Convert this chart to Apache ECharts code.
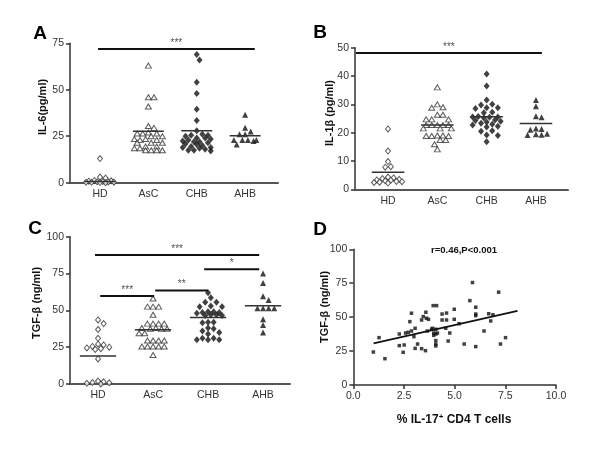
<!DOCTYPE html>
<html><head><meta charset="utf-8">
<script src="https://cdn.jsdelivr.net/npm/echarts@6/dist/echarts.min.js"></script>
<style>html,body{margin:0;padding:0;background:#fff}#c{width:600px;height:455px}</style>
</head><body><div id="c"></div>
<script>
// ---------- DATA ----------
const categories = ['HD', 'AsC', 'CHB', 'AHB'];

// Panel A: IL-6 (pg/ml)
const il6_HD  = [13, 3, 2.5, 1.2, 1, 0.8, 0.6, 0.5, 0.4, 0.3, 0.2, 0.2, 0.1, 0];
const il6_AsC = [63, 46, 46, 41, 30.5, 29.5, 27, 26.5, 26.5, 26.5, 25, 25, 23.5, 23.5, 23, 23, 21.5, 21.5, 21.5, 19.5, 19.5, 18.5, 18.5, 17.5, 17.5, 17.5, 17.5];
const il6_CHB = [69, 66, 54, 48, 39.5, 33.5, 28, 26, 25.5, 25.5, 25, 24, 24, 23.5, 23, 22.5, 22, 22, 21.5, 21, 20.5, 20, 19.5, 19, 19, 18.5, 18, 17.5, 17.5, 17];
const il6_AHB = [36.5, 29.5, 27.5, 26, 26, 23, 23, 23, 23, 22.5, 20.5];
const il6_means = [0.6, 27.7, 28, 25.3];
const il6_ticks = [0, 25, 50, 75];
const il6_sig = [[0.96, 4.2, 71.9, '***']];

// Panel B: IL-1beta (pg/ml)
const il1b_HD  = [21.3, 13.5, 9.8, 8, 7.8, 4.3, 4, 3.8, 3.5, 3.3, 3.2, 3, 2.8, 2.7, 2.5, 2.4, 2.2];
const il1b_AsC = [36, 30, 29, 28.8, 26.3, 26.3, 24.7, 24.7, 24.7, 22.7, 22.7, 22.7, 22.7, 22.7, 21.5, 21.5, 21.5, 19, 19, 18.8, 18.8, 18.8, 17.4, 17.4, 15.9, 14.1];
const il1b_CHB = [40.7, 36.5, 31.5, 30, 29.8, 28.8, 28.8, 28.5, 27.2, 27, 25.7, 25.5, 25.5, 25.4, 25.2, 24.5, 24.3, 24, 23.8, 23.3, 23, 22.7, 22.3, 22, 20.7, 20.5, 19.2, 19, 16.8];
const il1b_AHB = [31.5, 29.3, 25.8, 25.4, 21.5, 21.3, 21, 19.6, 19.4, 19.3, 19.2];
const il1b_means = [6, 22.7, 25.6, 23.2];
const il1b_ticks = [0, 10, 20, 30, 40, 50];
const il1b_sig = [[0.35, 4.12, 48.1, '***']];

// Panel C: TGF-beta (ng/ml)
const tgf_HD  = [43.5, 41, 37, 31, 27, 26.5, 25.5, 25, 24.5, 24, 23.5, 17, 2, 1.5, 1, 0.8, 0.5, 0];
const tgf_AsC = [58, 52.5, 52.5, 52.5, 47, 41, 41, 41, 41, 38, 38, 37.5, 37.5, 37.5, 34.5, 34.5, 29.5, 29.5, 29.5, 29.5, 25.5, 25.5, 25.5, 25.5, 25.5, 19.7];
const tgf_CHB = [62, 58.5, 55.5, 55.5, 53, 52.5, 52.5, 49, 49, 48.5, 48.5, 48, 47, 47, 46.5, 46.5, 42, 42, 41.5, 38, 37.5, 36, 35, 34, 31, 31, 30, 30, 30];
const tgf_AHB = [75, 68.5, 59.5, 57, 51.5, 51.5, 51.5, 51.5, 44, 40, 35];
const tgf_means = [19, 36.9, 45.2, 53.2];
const tgf_ticks = [0, 25, 50, 75, 100];
const tgf_sig = [[0.945, 3.93, 87.6, '***'], [1.04, 2.02, 59.8, '***'], [2.04, 3.0, 63.4, '**'], [2.93, 3.93, 77.9, '*']];

// Panel D: correlation %IL-17+ CD4 T cells vs TGF-beta
const corr_x = [0.99, 1.27, 1.56, 2.27, 2.27, 2.51, 2.46, 2.58, 2.71, 2.79, 2.87, 2.87, 2.99, 3.05, 3.05, 3.17, 3.37, 3.37, 3.45, 3.58,
                3.61, 3.56, 3.65, 3.71, 3.86, 3.91, 3.94, 4.11, 3.97, 3.97, 4.07, 4.07, 4.07, 4.07, 4.07, 4.15, 4.38, 4.6, 4.38, 4.6,
                4.56, 4.68, 4.76, 4.98, 4.98, 5.22, 5.47, 5.75, 5.88, 6.04, 6.04, 6.04, 6.04, 6.45, 6.68, 6.78, 6.89, 7.17, 7.26, 7.51];
const corr_y = [24.3, 34.9, 19.4, 37.6, 29.0, 29.5, 24.1, 38.3, 38.8, 46.7, 52.9, 39.8, 35.6, 41.8, 27.0, 30.2, 26.8, 47.9, 50.4, 53.6,
                49.2, 25.3, 39.8, 48.4, 41.1, 41.8, 58.5, 58.5, 38.3, 36.6, 41.1, 37.6, 32.7, 30.2, 28.8, 38.3, 52.3, 53.0, 47.9, 47.9,
                41.8, 32.4, 38.3, 55.8, 48.4, 45.2, 30.2, 62.2, 75.5, 57.3, 52.3, 51.1, 28.3, 39.8, 52.5, 47.2, 51.8, 68.4, 30.2, 34.9];
const fit_x = [1.0, 8.1];
const fit_y = [30.7, 54.6];
const corr_xticks = [0, 2.5, 5, 7.5, 10];
const corr_yticks = [0, 25, 50, 75, 100];
const corr_note = 'r=0.46,P<0.001';

// ---------- LAYOUT / STYLE ----------
const FONT = '"Liberation Sans", Arial, sans-serif';
const panels = [
  {letter: 'A', grid: {left: 70, top: 43.3, width: 208, height: 139.4}, xMin: 0.38, xMax: 4.68, ticks: il6_ticks,
   groups: [il6_HD, il6_AsC, il6_CHB, il6_AHB], means: il6_means, sig: il6_sig, title: 'IL-6(pg/ml)', tx: 43, ty: 107, lx: 40, ly: 34, half: 0.32},
  {letter: 'B', grid: {left: 355, top: 47.7, width: 213, height: 141.6}, xMin: 0.33, xMax: 4.65, ticks: il1b_ticks,
   groups: [il1b_HD, il1b_AsC, il1b_CHB, il1b_AHB], means: il1b_means, sig: il1b_sig, title: 'IL-1β (pg/ml)', tx: 330, ty: 113, lx: 320, ly: 33, half: 0.33},
  {letter: 'C', grid: {left: 70, top: 236.7, width: 220, height: 147.3}, xMin: 0.49, xMax: 4.49, ticks: tgf_ticks,
   groups: [tgf_HD, tgf_AsC, tgf_CHB, tgf_AHB], means: tgf_means, sig: tgf_sig, title: 'TGF-β (ng/ml)', tx: 37, ty: 303, lx: 35, ly: 229, half: 0.33}
];
const gridD = {left: 353.3, top: 249.3, width: 202.7, height: 135.7};

const markerStyles = [
  {symbol: 'diamond', size: [5, 6], item: {color: '#fff', borderColor: '#333', borderWidth: 1}},
  {symbol: 'triangle', size: [6, 5], item: {color: '#fff', borderColor: '#333', borderWidth: 1}},
  {symbol: 'diamond', size: [6, 7], item: {color: '#111'}},
  {symbol: 'triangle', size: [6, 6], item: {color: '#111'}}
];

// beeswarm-like horizontal spreading (column scatter)
function swarm(values, center, pxX, pxY, d, maxOff) {
  const placed = [], out = [];
  const vals = values.slice().sort((a, b) => b - a);
  for (const v of vals) {
    const py = v * pxY;
    let best = 0, bestScore = -1;
    for (let k = 0; k <= 40; k++) {
      const off = (k === 0 ? 0 : (k % 2 === 1 ? 1 : -1) * Math.ceil(k / 2)) * d / 2;
      if (Math.abs(off) > maxOff) continue;
      let minDist = Infinity;
      for (const p of placed) { const dd = Math.hypot(p.x - off, p.y - py); if (dd < minDist) minDist = dd; }
      if (minDist >= d) { best = off; bestScore = Infinity; break; }
      if (minDist > bestScore) { bestScore = minDist; best = off; }
    }
    placed.push({x: best, y: py});
    out.push([center + best / pxX, v]);
  }
  return out;
}

const grid = [], xAxis = [], yAxis = [], series = [], graphic = [];
const axisColor = '#333';

panels.forEach((p, i) => {
  grid.push(p.grid);
  const yMax = p.ticks[p.ticks.length - 1];
  xAxis.push({gridIndex: i, type: 'value', min: p.xMin, max: p.xMax,
    axisLine: {show: true, lineStyle: {color: '#555', width: 2}}, axisTick: {show: false}, splitLine: {show: false},
    axisLabel: {customValues: [1, 2, 3, 4], formatter: v => categories[Math.round(v) - 1], fontSize: 10.5, color: '#333', margin: 6, fontFamily: FONT}});
  yAxis.push({gridIndex: i, type: 'value', min: 0, max: yMax, interval: p.ticks[1] - p.ticks[0],
    axisLine: {show: true, lineStyle: {color: axisColor, width: 1.5}},
    axisTick: {show: true, length: 4, lineStyle: {color: axisColor, width: 1.5}}, splitLine: {show: false},
    axisLabel: {fontSize: 10.5, color: '#333', margin: 6, fontFamily: FONT}});
  const pxX = p.grid.width / (p.xMax - p.xMin);
  const pxY = p.grid.height / yMax;
  p.groups.forEach((vals, gi) => {
    const ms = markerStyles[gi];
    series.push({type: 'scatter', xAxisIndex: i, yAxisIndex: i, data: swarm(vals, gi + 1, pxX, pxY, 5.6, 15),
      symbol: ms.symbol, symbolSize: ms.size, itemStyle: ms.item, clip: false, z: 3, silent: true});
  });
  p.means.forEach((m, gi) => {
    series.push({type: 'line', xAxisIndex: i, yAxisIndex: i, data: [[gi + 1 - p.half, m], [gi + 1 + p.half, m]],
      symbol: 'none', lineStyle: {color: '#333', width: 1.5}, z: 4, silent: true, clip: false});
  });
  p.sig.forEach(s => {
    series.push({type: 'line', xAxisIndex: i, yAxisIndex: i, data: [[s[0], s[2]], [s[1], s[2]]],
      symbol: 'none', lineStyle: {color: '#111', width: 2}, z: 4, silent: true, clip: false});
    series.push({type: 'scatter', xAxisIndex: i, yAxisIndex: i, data: [[(s[0] + s[1]) / 2, s[2]]],
      symbolSize: 2, itemStyle: {color: 'rgba(0,0,0,0)'}, clip: false, silent: true, z: 5,
      label: {show: true, position: 'top', distance: 0, formatter: s[3], fontSize: 10, color: '#222', fontFamily: FONT}});
  });
  graphic.push({type: 'text', x: p.tx, y: p.ty, rotation: Math.PI / 2,
    style: {text: p.title, font: 'bold 11px ' + FONT, fill: '#111', align: 'center', verticalAlign: 'middle'}});
  graphic.push({type: 'text', x: p.lx, y: p.ly,
    style: {text: p.letter, font: 'bold 19px ' + FONT, fill: '#000', align: 'center', verticalAlign: 'middle'}});
});

// Panel D
grid.push(gridD);
xAxis.push({gridIndex: 3, type: 'value', min: corr_xticks[0], max: corr_xticks[corr_xticks.length - 1], interval: corr_xticks[1] - corr_xticks[0],
  axisLine: {show: true, lineStyle: {color: axisColor, width: 1.5}}, axisTick: {show: true, length: 4, lineStyle: {color: axisColor, width: 1.5}},
  splitLine: {show: false}, axisLabel: {formatter: v => v.toFixed(1), fontSize: 10.5, color: '#333', margin: 6, fontFamily: FONT}});
yAxis.push({gridIndex: 3, type: 'value', min: corr_yticks[0], max: corr_yticks[corr_yticks.length - 1], interval: corr_yticks[1] - corr_yticks[0],
  axisLine: {show: true, lineStyle: {color: axisColor, width: 1.5}}, axisTick: {show: true, length: 4, lineStyle: {color: axisColor, width: 1.5}},
  splitLine: {show: false}, axisLabel: {fontSize: 10.5, color: '#333', margin: 6, fontFamily: FONT}});
series.push({type: 'scatter', xAxisIndex: 3, yAxisIndex: 3, data: corr_x.map((x, k) => [x, corr_y[k]]),
  symbol: 'rect', symbolSize: 3.5, itemStyle: {color: '#111'}, silent: true});
series.push({type: 'line', xAxisIndex: 3, yAxisIndex: 3, data: fit_x.map((x, k) => [x, fit_y[k]]),
  symbol: 'none', lineStyle: {color: '#111', width: 1.8}, silent: true});
graphic.push({type: 'text', x: 325, y: 307, rotation: Math.PI / 2,
  style: {text: 'TGF-β (ng/ml)', font: 'bold 11px ' + FONT, fill: '#111', align: 'center', verticalAlign: 'middle'}});
graphic.push({type: 'text', x: 320, y: 230,
  style: {text: 'D', font: 'bold 19px ' + FONT, fill: '#000', align: 'center', verticalAlign: 'middle'}});
graphic.push({type: 'text', x: 464, y: 250,
  style: {text: corr_note, font: 'bold 9.5px ' + FONT, fill: '#111', align: 'center', verticalAlign: 'middle'}});
graphic.push({type: 'text', x: 454, y: 420,
  style: {text: '% IL-17{sup|+} CD4 T cells', font: 'bold 12px ' + FONT, fill: '#111', align: 'center', verticalAlign: 'middle',
    rich: {sup: {font: 'bold 8px ' + FONT, fill: '#111', padding: [0, 0, 7, 0]}}}});

const chart = echarts.init(document.getElementById('c'), null, {renderer: 'canvas'});
chart.setOption({
  animation: false,
  backgroundColor: '#fff',
  textStyle: {fontFamily: FONT},
  grid, xAxis, yAxis, series, graphic
});
</script>
</body></html>
